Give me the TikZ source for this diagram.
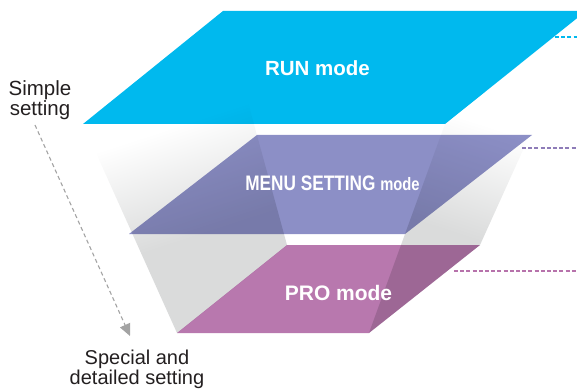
\documentclass[tikz,border=0pt]{standalone}
\usepackage{fontspec}
\setmainfont{Liberation Sans}
\usetikzlibrary{arrows.meta}
\definecolor{runc}{HTML}{00B9EE}
\definecolor{menuc}{HTML}{8C8FC6}
\definecolor{proc}{HTML}{B878AE}
\definecolor{facec}{HTML}{DADBDB}
\definecolor{txtc}{HTML}{231F20}
\definecolor{arrc}{HTML}{A3A3A3}
\definecolor{menud}{HTML}{8E7CB8}
\definecolor{prod}{HTML}{B772AB}
\pgfdeclareverticalshading{facesh}{100bp}{color(0bp)=(facec); color(39bp)=(facec); color(58bp)=(white); color(100bp)=(white)}
\tikzset{
  layertext/.style={text=white, inner sep=0pt, anchor=base},
  sidetext/.style={text=txtc, inner sep=0pt, anchor=north, align=center},
  leftface/.style={shading=facesh, shading angle=18},
  rightface/.style={shading=facesh, shading angle=-18},
  leader/.style={line width=1.3pt, dash pattern=on 4pt off 2.2pt},
}
\begin{document}
\begin{tikzpicture}[x=1pt,y=-1pt]
\useasboundingbox (0,0) rectangle (577,390);
\clip (0,0) rectangle (577,390);
% layers
\fill[runc]  (83,124) -- (445,124) -- (586,11) -- (223,11) -- cycle;
\fill[menuc] (129,234) -- (405,234) -- (532,135) -- (257,135) -- cycle;
\fill[proc]  (177,333) -- (369,333) -- (480,245) -- (287,245) -- cycle;
% funnel side faces
\begin{scope}[blend mode=multiply]
\shade[leftface] (83,124) -- (223,11) -- (287,245) -- (177,333) -- cycle;
\shade[rightface] (445,124) -- (586,11) -- (480,245) -- (369,333) -- cycle;
\end{scope}
% texts
\node[layertext, font=\bfseries\fontsize{20.5}{24}\selectfont] (run) at (317.5,76) {RUN mode};
\node[layertext, font=\bfseries] (menu) at (332.5,190) {\scalebox{0.82}[1]{\fontsize{21}{24}\selectfont MENU SETTING \fontsize{18}{22}\selectfont mode}};
\node[layertext, font=\bfseries\fontsize{21}{24}\selectfont] (pro) at (338.5,300) {PRO mode};
\node[sidetext, font=\fontsize{20.5}{19}\selectfont] (simple) at (40,80.5) {Simple\\setting};
\node[sidetext, font=\fontsize{20}{17}\selectfont] (special) at (137,350) {Special and\\detailed setting};
% leaders
\coordinate (runL) at (555,37);   \coordinate (runR) at (577,37);
\coordinate (menuL) at (522,148); \coordinate (menuR) at (577,148);
\coordinate (proL) at (454,271);  \coordinate (proR) at (577,271);
\draw[leader, runc] (runL) -- (runR);
\draw[leader, menud] (menuL) -- (menuR);
\draw[leader, prod] (proL) -- (proR);
% progression arrow
\coordinate (arrS) at (35,125);
\coordinate (arrE) at (130,336);
\draw[arrc, line width=1.1pt, dash pattern=on 4pt off 3pt, -{Triangle[length=12pt,width=11pt]}] (arrS) -- (arrE);
\end{tikzpicture}
\end{document}
